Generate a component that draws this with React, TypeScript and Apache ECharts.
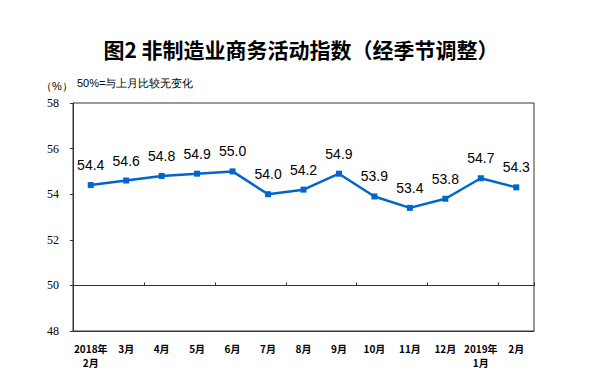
import React, { useEffect, useRef } from "react";
import * as echarts from "echarts";

const categories = ["2018年\n2月", "3月", "4月", "5月", "6月", "7月", "8月", "9月", "10月", "11月", "12月", "2019年\n1月", "2月"];
const values = [54.4, 54.6, 54.8, 54.9, 55.0, 54.0, 54.2, 54.9, 53.9, 53.4, 53.8, 54.7, 54.3];
const yMin = 48;
const yMax = 58;
const yInterval = 2;
const baseline = 50;
const titleText = "图2 非制造业商务活动指数（经季节调整）";
const unitText = "（%）";
const noteText = "50%=与上月比较无变化";

export default function App() {
  const ref = useRef<HTMLDivElement>(null);
  useEffect(() => {
    if (!ref.current) return;
    const chart = echarts.init(ref.current, null, { renderer: "svg" });
    const gridTop = 103;
    const gridBottom = 59;
    const plotH = 390 - gridTop - gridBottom;
    const baseOffset = -((baseline - yMin) / (yMax - yMin)) * plotH;
    chart.setOption({
      animation: false,
      backgroundColor: "#fff",
      title: {
        text: titleText,
        left: 296,
        textAlign: "center",
        top: 33,
        textStyle: { fontSize: 21, fontWeight: "bold", color: "#000", fontFamily: "Noto Sans CJK SC" },
      },
      graphic: [
        { type: "text", left: 41, top: 80, style: { text: unitText, fontSize: 11, fill: "#000", font: "11px 'Noto Sans CJK SC'" } },
        { type: "text", left: 77, top: 77, style: { text: noteText, fontSize: 11, fill: "#000", font: "11px 'Noto Sans CJK SC'" } },
      ],
      grid: {
        left: 73,
        right: 79,
        top: gridTop,
        bottom: gridBottom,
        show: true,
        borderColor: "#333",
        borderWidth: 1,
      },
      xAxis: [
        {
          type: "category",
          data: categories,
          boundaryGap: true,
          position: "bottom",
          axisLine: { show: true, lineStyle: { color: "#333" } },
          axisTick: { show: false },
          axisLabel: {
            interval: 0,
            fontSize: 10,
            fontWeight: "bold",
            color: "#000",
            margin: 10,
            lineHeight: 14,
            fontFamily: "Noto Sans CJK SC",
          },
        },
        {
          type: "category",
          data: categories,
          boundaryGap: true,
          position: "bottom",
          offset: baseOffset,
          axisLine: { show: true, lineStyle: { color: "#333" } },
          axisTick: { show: true, inside: true, length: 3, lineStyle: { color: "#333" } },
          axisLabel: { show: false },
        },
      ],
      yAxis: {
        type: "value",
        min: yMin,
        max: yMax,
        interval: yInterval,
        axisLine: { show: true, lineStyle: { color: "#333" } },
        axisTick: { show: true, length: 3, lineStyle: { color: "#333" } },
        splitLine: { show: false },
        axisLabel: { fontSize: 12, color: "#000", margin: 14, fontFamily: "Liberation Serif" },
      },
      series: [
        {
          type: "line",
          data: values,
          xAxisIndex: 0,
          symbol: "rect",
          symbolSize: 6,
          lineStyle: { color: "#0066CC", width: 2.5 },
          itemStyle: { color: "#0066CC" },
          label: {
            show: true,
            position: "top",
            distance: 10,
            fontSize: 14,
            color: "#000",
            fontFamily: "Liberation Sans",
            formatter: (p: any) => p.value.toFixed(1),
          },
        },
      ],
    });
    return () => chart.dispose();
  }, []);
  return <div ref={ref} style={{ width: 613, height: 390, margin: -8 }} />;
}
